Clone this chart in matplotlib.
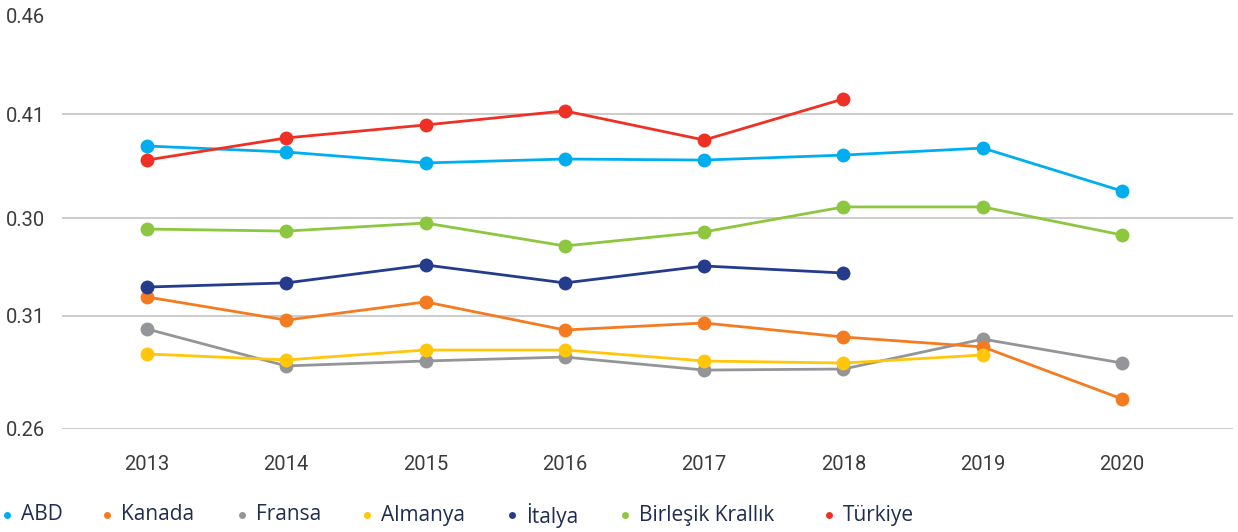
import matplotlib
matplotlib.use("Agg")
import matplotlib.pyplot as plt
from matplotlib.lines import Line2D

years = [2013, 2014, 2015, 2016, 2017, 2018, 2019, 2020]

abd      = [0.3968, 0.3939, 0.3886, 0.3905, 0.3900, 0.3924, 0.3958, 0.3750]
kanada   = [0.3237, 0.3125, 0.3213, 0.3077, 0.3111, 0.3043, 0.2995, 0.2743]
fransa   = [0.3082, 0.2903, 0.2927, 0.2946, 0.2883, 0.2888, 0.3033, 0.2917]
almanya  = [0.2961, 0.2932, 0.2980, 0.2980, 0.2927, 0.2917, 0.2956]
italya   = [0.3285, 0.3305, 0.3392, 0.3305, 0.3387, 0.3353]
birlesik = [0.3566, 0.3556, 0.3595, 0.3484, 0.3552, 0.3673, 0.3673, 0.3537]
turkiye  = [0.3900, 0.4007, 0.4070, 0.4138, 0.3997, 0.4196]

names = ["ABD", "Kanada", "Fransa", "Almanya", "İtalya", "Birleşik Krallık", "Türkiye"]
series = [abd, kanada, fransa, almanya, italya, birlesik, turkiye]
colors = ["#00aeef", "#f47b20", "#939598", "#ffc60b", "#253c8c", "#8dc63f", "#ee3124"]
zorders = [3, 4, 2.5, 5, 6, 7, 8]

ytick_pos = [0.26, 0.3145, 0.3619, 0.4123, 0.46]
ytick_labels = ["0.26", "0.31", "0.30", "0.41", "0.46"]

W, H = 1238, 532
fig = plt.figure(figsize=(W / 100, H / 100), dpi=100)
ax = fig.add_axes([62 / W, (H - 428.5) / H, (1233 - 62) / W, 413 / H])

for name, vals, c, z in zip(names, series, colors, zorders):
    ax.plot(years[:len(vals)], vals, color=c, lw=2.0, marker="o", markersize=10,
            markeredgewidth=0, zorder=z, clip_on=False)

ax.set_ylim(0.26, 0.46)
ax.set_xlim(2013 - 85 / 139.5, 2020 + 111 / 139.5)
ax.set_yticks(ytick_pos)
ax.set_yticklabels(ytick_labels)
ax.set_xticks(years)
ax.set_xticklabels([str(y) for y in years])
ax.grid(axis="y", color="#c8c8c8", lw=1.3, zorder=0)
ax.set_axisbelow(True)
for s in ax.spines.values():
    s.set_visible(False)
ax.tick_params(axis="both", length=0, labelsize=14.5, labelcolor="#3c3c3c")
ax.tick_params(axis="y", pad=12)
ax.tick_params(axis="x", pad=19)
for lab in ax.get_xticklabels() + ax.get_yticklabels():
    lab.set_fontfamily("Roboto")
    lab.set_fontweight("normal")

# legend
dot_x = [7, 107, 242, 367, 512, 625, 829]
ly = H - 515
for name, c, dx in zip(names, colors, dot_x):
    fig.add_artist(Line2D([dx / W], [ly / H], marker="o", color=c, markersize=5,
                          markeredgewidth=0, transform=fig.transFigure))
    fig.text((dx + 14) / W, ly / H, name, fontsize=15, color="#1e2d50",
             family="Open Sans", va="center", ha="left")

fig.savefig("out.png", dpi=100)
